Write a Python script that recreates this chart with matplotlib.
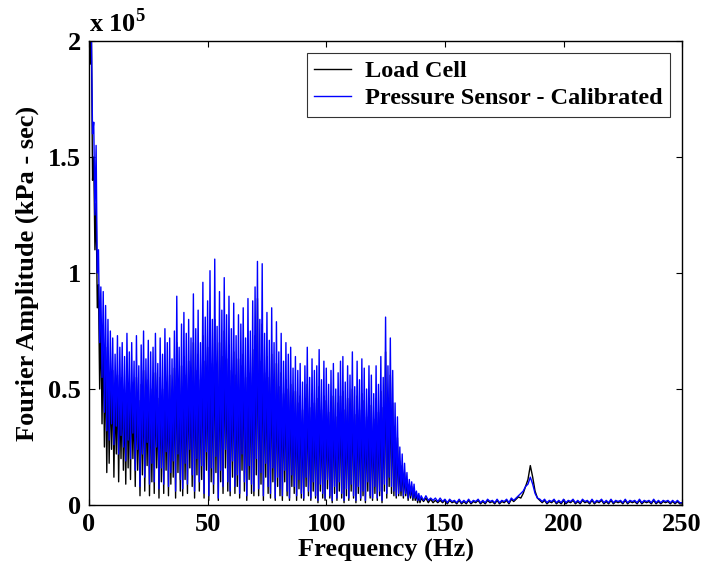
import numpy as np
import matplotlib
matplotlib.use('Agg')
import matplotlib.pyplot as plt

# Fourier amplitudes, in units of 1e4 kPa-sec.
# 0-139 Hz: one spike per Hz (peak at f, dip at f + 0.5)
blue_peak = [
    21.0, 20.5, 16.5, 15.5, 11.0, 9.4, 9.2, 8.6, 8.0, 7.5,
    7.2, 6.5, 7.3, 6.8, 7.0, 6.4, 7.4, 6.6, 7.0, 6.2,
    7.3, 6.0, 6.9, 7.5, 6.3, 7.1, 6.6, 6.8, 7.4, 6.1,
    7.2, 6.5, 7.6, 7.0, 7.2, 6.3, 7.5, 9.0, 6.8, 7.8,
    8.3, 7.4, 8.0, 7.2, 9.1, 7.6, 8.4, 7.0, 9.6, 8.1,
    8.8, 10.1, 8.0, 10.6, 7.7, 9.2, 8.4, 9.8, 8.2, 9.0,
    7.6, 8.7, 7.3, 8.2, 7.8, 8.5, 7.2, 8.9, 7.5, 8.8,
    9.4, 10.5, 8.0, 10.4, 7.4, 8.3, 7.1, 8.5, 7.0, 7.9,
    6.6, 7.4, 6.2, 7.0, 6.5, 6.8, 5.9, 6.4, 5.8, 6.1,
    5.3, 6.0, 6.8, 5.5, 6.3, 5.8, 6.0, 6.7, 5.4, 6.2,
    5.9, 5.2, 5.8, 6.1, 5.0, 5.7, 6.2, 6.4, 5.3, 6.0,
    5.6, 6.6, 5.1, 6.2, 5.4, 6.3, 5.9, 5.0, 6.0, 5.6,
    4.8, 6.0, 5.2, 6.4, 5.5, 8.1, 6.0, 7.2, 5.8, 4.4,
    3.8, 2.5, 2.2, 1.8, 1.4, 1.1, 1.0, 0.9, 0.6, 0.5,
]
blue_dip = [
    20.5, 16.0, 12.5, 10.0, 7.0, 5.5, 4.0, 3.2, 2.8, 3.5,
    2.6, 3.4, 2.2, 3.0, 2.5, 1.9, 2.8, 2.0, 3.1, 1.5,
    2.4, 0.8, 2.2, 1.2, 2.7, 0.9, 1.8, 1.0, 2.5, 0.7,
    1.6, 0.9, 2.3, 0.8, 1.4, 1.9, 0.6, 2.2, 1.1, 0.7,
    1.8, 0.9, 2.4, 1.3, 0.6, 2.0, 1.0, 1.7, 0.5, 2.3,
    0.4, 1.6, 0.9, 2.1, 0.3, 1.5, 0.8, 2.4, 1.0, 0.6,
    1.9, 0.8, 1.3, 0.5, 2.2, 1.0, 0.4, 1.7, 0.9, 0.6,
    2.0, 0.7, 1.4, 0.4, 1.8, 0.8, 0.5, 1.6, 0.3, 1.2,
    0.7, 0.4, 1.5, 0.6, 0.3, 1.3, 0.8, 0.4, 1.1, 0.5,
    0.3, 1.2, 0.6, 0.3, 1.0, 0.4, 0.2, 0.9, 0.5, 0.3,
    1.1, 0.4, 0.2, 0.8, 0.3, 1.0, 0.5, 0.2, 0.7, 0.3,
    0.9, 0.4, 0.2, 0.8, 0.3, 0.6, 0.2, 1.0, 0.4, 0.3,
    0.8, 0.3, 0.6, 0.2, 0.9, 0.5, 1.2, 0.8, 0.6, 0.4,
    0.5, 0.6, 0.4, 0.5, 0.3, 0.4, 0.3, 0.3, 0.2, 0.2,
]
black_peak = [
    21.0, 20.5, 15.0, 13.0, 9.5, 8.0, 7.5, 6.8, 6.0, 5.5,
    5.8, 5.0, 5.6, 4.9, 5.5, 4.7, 5.8, 5.0, 5.3, 4.6,
    5.5, 4.5, 5.2, 5.8, 4.8, 5.4, 5.0, 5.2, 5.7, 4.6,
    5.5, 5.0, 5.8, 5.3, 5.6, 4.8, 5.9, 7.0, 5.2, 6.0,
    6.4, 5.6, 6.2, 5.5, 7.0, 5.8, 6.5, 5.4, 7.3, 6.2,
    6.8, 7.7, 6.1, 8.0, 5.9, 7.0, 6.4, 7.5, 6.3, 6.9,
    5.8, 6.6, 5.6, 6.3, 6.0, 6.5, 5.5, 6.8, 5.7, 6.7,
    7.3, 8.9, 6.2, 7.8, 5.7, 6.4, 5.5, 6.5, 5.4, 6.1,
    5.1, 5.7, 4.8, 5.4, 5.0, 5.2, 4.5, 4.9, 4.4, 4.7,
    4.1, 4.6, 5.2, 4.2, 4.8, 4.4, 4.6, 5.1, 4.1, 4.7,
    4.5, 4.0, 4.4, 4.7, 3.8, 4.4, 4.7, 4.9, 4.1, 4.6,
    4.3, 5.0, 3.9, 4.7, 4.1, 4.8, 4.5, 3.8, 4.6, 4.3,
    3.7, 4.6, 4.0, 4.9, 4.2, 6.6, 4.6, 5.6, 4.4, 3.4,
    2.9, 1.9, 1.7, 1.4, 1.1, 0.9, 0.8, 0.7, 0.5, 0.4,
]
black_dip = [
    19.0, 14.0, 11.0, 8.5, 5.0, 3.5, 2.5, 1.4, 1.8, 2.4,
    1.2, 2.2, 1.0, 2.0, 1.5, 0.9, 1.6, 1.1, 2.0, 0.8,
    1.5, 0.4, 1.3, 0.6, 1.7, 0.4, 1.0, 0.5, 1.6, 0.3,
    1.0, 0.5, 1.5, 0.4, 0.9, 1.2, 0.3, 1.4, 0.6, 0.4,
    1.1, 0.5, 1.6, 0.8, 0.3, 1.3, 0.6, 1.1, 0.3, 1.5,
    0.2, 1.0, 0.5, 1.4, 0.2, 1.0, 0.5, 1.6, 0.6, 0.4,
    1.2, 0.5, 0.8, 0.3, 1.5, 0.6, 0.2, 1.1, 0.5, 0.4,
    1.3, 0.4, 0.9, 0.2, 1.2, 0.5, 0.3, 1.0, 0.2, 0.8,
    0.4, 0.2, 1.0, 0.4, 0.2, 0.8, 0.5, 0.2, 0.7, 0.3,
    0.2, 0.8, 0.4, 0.2, 0.6, 0.3, 0.1, 0.6, 0.3, 0.2,
    0.7, 0.3, 0.1, 0.5, 0.2, 0.6, 0.3, 0.1, 0.4, 0.2,
    0.6, 0.3, 0.1, 0.5, 0.2, 0.4, 0.1, 0.6, 0.3, 0.2,
    0.5, 0.2, 0.4, 0.1, 0.6, 0.3, 0.8, 0.5, 0.4, 0.3,
    0.4, 0.4, 0.3, 0.4, 0.2, 0.3, 0.2, 0.2, 0.1, 0.1,
]

# 140-250 Hz, one value per Hz
blue_tail = [
    0.4, 0.2, 0.4, 0.2, 0.3, 0.2, 0.3, 0.15, 0.3, 0.15,
    0.25, 0.1, 0.25, 0.15, 0.2, 0.1, 0.25, 0.1, 0.2, 0.1,
    0.25, 0.1, 0.2, 0.15, 0.25, 0.1, 0.2, 0.1, 0.25, 0.15,
    0.2, 0.1, 0.25, 0.1, 0.2, 0.15, 0.25, 0.1, 0.3, 0.2,
    0.3, 0.4, 0.5, 0.6, 0.8, 0.9, 1.2, 0.9, 0.5, 0.3,
    0.25, 0.15, 0.25, 0.1, 0.2, 0.15, 0.25, 0.1, 0.2, 0.1,
    0.25, 0.1, 0.2, 0.15, 0.25, 0.1, 0.2, 0.1, 0.25, 0.15,
    0.2, 0.1, 0.25, 0.1, 0.2, 0.15, 0.25, 0.1, 0.2, 0.1,
    0.25, 0.1, 0.2, 0.15, 0.2, 0.1, 0.25, 0.1, 0.2, 0.15,
    0.2, 0.1, 0.25, 0.1, 0.2, 0.15, 0.2, 0.1, 0.25, 0.1,
    0.2, 0.1, 0.2, 0.15, 0.2, 0.1, 0.2, 0.1, 0.2, 0.1,
    0.1,
]
black_tail = [
    0.3, 0.15, 0.3, 0.1, 0.25, 0.1, 0.2, 0.1, 0.2, 0.1,
    0.2, 0.05, 0.2, 0.1, 0.15, 0.05, 0.2, 0.05, 0.15, 0.05,
    0.2, 0.05, 0.15, 0.1, 0.2, 0.05, 0.15, 0.05, 0.2, 0.1,
    0.15, 0.05, 0.2, 0.05, 0.15, 0.1, 0.2, 0.05, 0.25, 0.15,
    0.25, 0.35, 0.3, 0.5, 0.8, 1.1, 1.7, 1.2, 0.6, 0.3,
    0.2, 0.1, 0.2, 0.05, 0.15, 0.1, 0.2, 0.05, 0.15, 0.05,
    0.2, 0.05, 0.15, 0.1, 0.2, 0.05, 0.15, 0.05, 0.2, 0.1,
    0.15, 0.05, 0.2, 0.05, 0.15, 0.1, 0.2, 0.05, 0.15, 0.05,
    0.2, 0.05, 0.15, 0.1, 0.15, 0.05, 0.2, 0.05, 0.15, 0.1,
    0.15, 0.05, 0.2, 0.05, 0.15, 0.1, 0.15, 0.05, 0.2, 0.05,
    0.15, 0.05, 0.15, 0.1, 0.15, 0.05, 0.15, 0.05, 0.15, 0.05,
    0.05,
]

x_ticks = [0, 50, 100, 150, 200, 250]
y_ticks = [0, 0.5, 1, 1.5, 2]
y_ticklabels = ['0', '0.5', '1', '1.5', '2']
series_names = ['Load Cell', 'Pressure Sensor - Calibrated']


def build_series(peak, dip, tail):
    n = len(peak)
    f_dense = np.empty(2 * n)
    f_dense[0::2] = np.arange(n)
    f_dense[1::2] = np.arange(n) + 0.5
    a_dense = np.empty(2 * n)
    a_dense[0::2] = peak
    a_dense[1::2] = dip
    f_tail = np.arange(n, n + len(tail))
    f = np.concatenate([f_dense, f_tail])
    a = np.concatenate([a_dense, tail]) / 10.0  # -> units of 1e5
    return f, a


plt.rcParams['font.family'] = ['Liberation Serif', 'DejaVu Serif']
plt.rcParams['font.weight'] = 'bold'

fig = plt.figure(figsize=(7.04, 5.75), dpi=100)
ax = fig.add_axes([0.1264, 0.1217, 0.8426, 0.807])

f_k, a_k = build_series(black_peak, black_dip, black_tail)
f_b, a_b = build_series(blue_peak, blue_dip, blue_tail)
ax.plot(f_k, a_k, color='black', lw=1.0, label=series_names[0])
ax.plot(f_b, a_b, color='blue', lw=1.0, label=series_names[1])

ax.set_xlim(0, 250)
ax.set_ylim(0, 2)
ax.set_xticks(x_ticks)
ax.set_yticks(y_ticks)
ax.set_yticklabels(y_ticklabels)
ax.tick_params(direction='in', length=4, width=0.8, top=True, right=True,
               labelsize=19, pad=6)
for lab in ax.get_xticklabels() + ax.get_yticklabels():
    lab.set_fontweight('bold')
for sp in ax.spines.values():
    sp.set_linewidth(1.0)

ax.set_xlabel('Frequency (Hz)', fontsize=19, fontweight='bold', labelpad=2)
ax.set_ylabel('Fourier Amplitude (kPa - sec)', fontsize=19, fontweight='bold',
              labelpad=6)
ax.text(0.0, 1.02, 'x 10$^{\\mathregular{5}}$', transform=ax.transAxes,
        fontsize=19, fontweight='bold', ha='left', va='baseline')

leg = ax.legend(loc='upper right', frameon=True, fancybox=False,
                borderaxespad=0.5, handlelength=1.5, borderpad=0.3,
                labelspacing=0.2, handletextpad=0.6,
                prop={'weight': 'bold', 'size': 17.5})
leg.get_frame().set_edgecolor('black')
leg.get_frame().set_linewidth(0.8)

fig.savefig('out.png', dpi=100)
